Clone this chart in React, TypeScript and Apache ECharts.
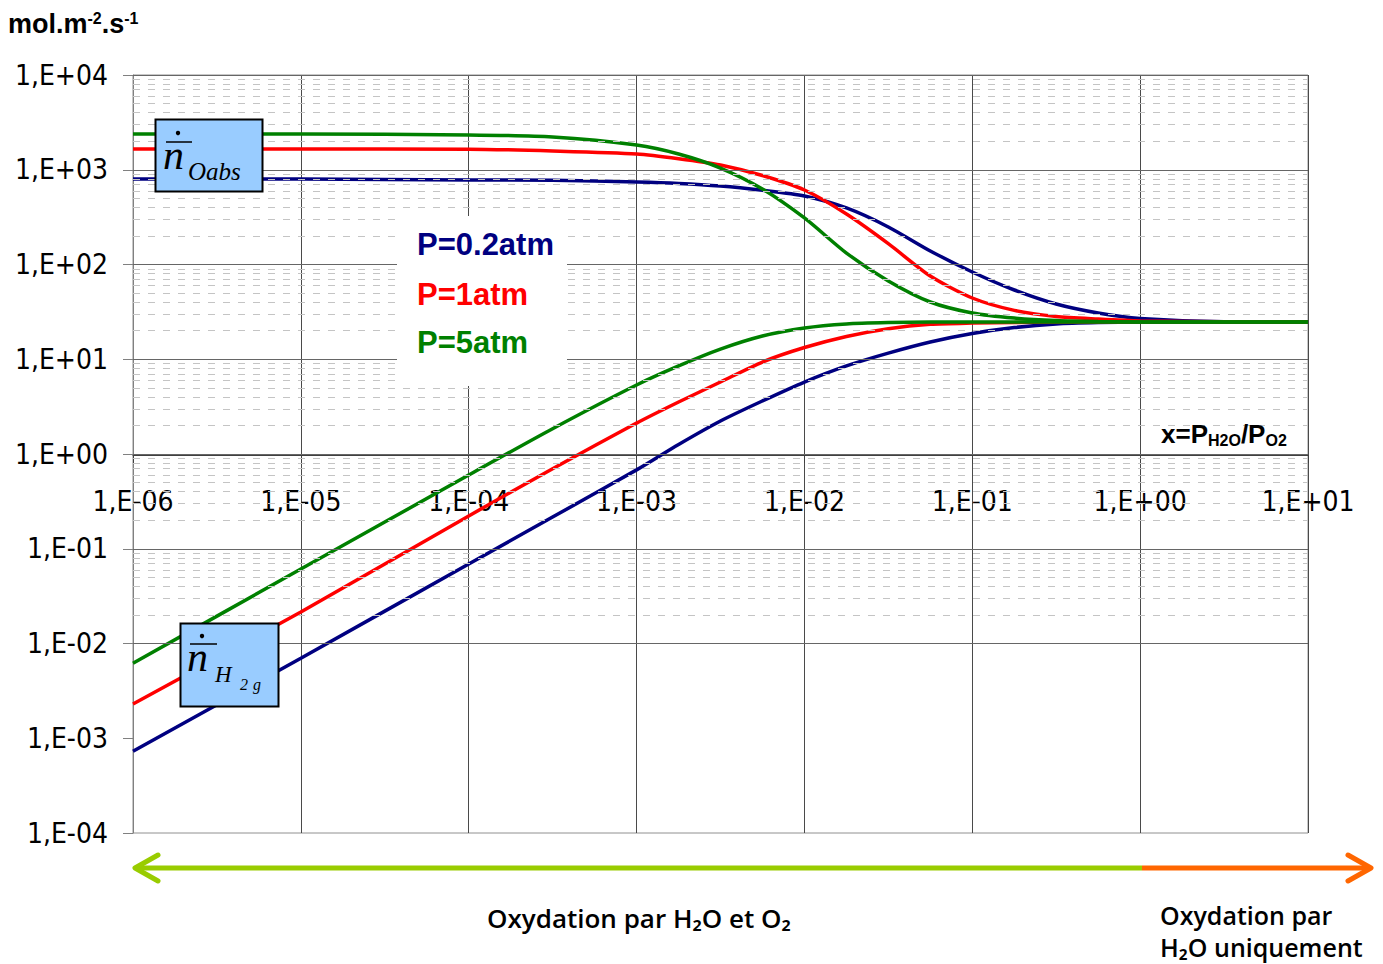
import React, { useEffect, useRef } from 'react';
import * as echarts from 'echarts';

// x = P_H2O / P_O2
const xValues = [1e-6, 1e-5, 1e-4, 3.16e-4, 1e-3, 1.78e-3, 3.16e-3, 5.62e-3, 1e-2, 1.78e-2, 3.16e-2, 5.62e-2, 0.1, 0.178, 0.316, 0.562, 1, 3.16, 10];

// n_Oabs (mol.m-2.s-1)
const oabs02 = [798, 798, 780, 775, 743, 718, 674, 607, 529, 395, 249, 139, 83.4, 53.8, 38.3, 30.8, 26.9, 24.9, 24.8];
const oabs1 = [1656, 1656, 1650, 1577, 1466, 1309, 1122, 869, 611, 341, 166, 75.6, 44.3, 32.8, 28.3, 26.6, 25.4, 24.9, 24.8];
const oabs5 = [2380, 2380, 2330, 2218, 1824, 1466, 1043, 627, 310, 132, 67, 40.2, 30.8, 27.2, 25.6, 25.0, 24.8, 24.8, 24.8];

// n_H2g (mol.m-2.s-1)
const h2g02 = [7.3e-4, 7.0e-3, 0.069, 0.216, 0.68, 1.26, 2.23, 3.63, 5.75, 8.5, 11.6, 15.2, 18.7, 21.6, 23.6, 24.4, 24.7, 24.8, 24.8];
const h2g1 = [2.3e-3, 0.0215, 0.222, 0.70, 2.12, 3.54, 5.75, 9.35, 13.3, 17.4, 21.0, 23.4, 24.1, 24.4, 24.7, 24.8, 24.8, 24.8, 24.8];
const h2g5 = [6.2e-3, 0.061, 0.60, 1.85, 5.35, 8.5, 12.8, 17.6, 21.4, 23.6, 24.4, 24.7, 24.8, 24.8, 24.8, 24.8, 24.8, 24.8, 24.8];

const seriesNames = ['P=0.2atm', 'P=1atm', 'P=5atm'];
const seriesColors = ['#000080', '#FF0000', '#008000'];

const xMin = 1e-6;
const xMax = 10;
const yMin = 1e-4;
const yMax = 1e4;

// y gridlines: majors (decades) and log minors (2..9 in each decade)
const majorExponents = [-4, -3, -2, -1, 0, 1, 2, 3, 4];
const minorMultipliers = [2, 3, 4, 5, 6, 7, 8, 9];
const minorDecades = [-4, -3, -2, -1, 0, 1, 2, 3];

const tickFont = '"DejaVu Sans Condensed", "Liberation Sans Narrow", "DejaVu Sans", sans-serif';

function fmt(v: number): string {
  const e = Math.round(Math.log10(v));
  return '1,E' + (e < 0 ? '-' : '+') + String(Math.abs(e)).padStart(2, '0');
}

export default function App() {
  const ref = useRef<HTMLDivElement>(null);

  useEffect(() => {
    if (!ref.current) return;
    const chart = echarts.init(ref.current, null, { renderer: 'svg' });

    const minorVals: number[] = [];
    minorDecades.forEach((d) => minorMultipliers.forEach((m) => minorVals.push(m * Math.pow(10, d))));
    const majorVals = majorExponents.map((e) => Number('1e' + e));

    const toData = (ys: number[]) => xValues.map((x, i) => [x, ys[i]]);
    const upper = [oabs02, oabs1, oabs5];
    const lower = [h2g02, h2g1, h2g5];

    const lineSeries: any[] = [];
    [0, 1, 2].forEach((i) => {
      [upper[i], lower[i]].forEach((ys, k) => {
        lineSeries.push({
          name: seriesNames[i] + (k === 0 ? ' Oabs' : ' H2g'),
          type: 'line',
          data: toData(ys),
          showSymbol: false,
          smooth: 0.25,
          lineStyle: { color: seriesColors[i], width: 3.5 },
          itemStyle: { color: seriesColors[i] },
          z: 3,
        });
      });
    });

    const txt = (text: string, x: number, y: number, size: number, color: string, extra: any = {}) => ({
      type: 'text',
      x,
      y,
      z: 101,
      style: {
        text,
        fill: color,
        fontSize: size,
        fontFamily: '"Liberation Sans", Arial, sans-serif',
        fontWeight: 'bold',
        verticalAlign: 'middle',
        align: 'left',
        ...extra,
      },
    });

    const serif = '"Liberation Serif", "Times New Roman", serif';
    const capFont = '"Open Sans", "DejaVu Sans", sans-serif';

    const option: any = {
      animation: false,
      grid: {
        left: 133,
        top: 75,
        right: 75,
        bottom: 131,
        show: true,
        borderColor: '#909090',
        borderWidth: 1,
      },
      xAxis: {
        type: 'log',
        logBase: 10,
        min: xMin,
        max: xMax,
        position: 'bottom',
        offset: -378,
        axisLine: { show: true, onZero: false, lineStyle: { color: '#404040', width: 1 } },
        axisTick: { show: true, length: 8, lineStyle: { color: '#404040' } },
        axisLabel: {
          margin: 32,
          fontSize: 28,
          color: '#000',
          fontFamily: tickFont,
          formatter: fmt,
          showMinLabel: true,
          showMaxLabel: true,
        },
        splitLine: { show: true, lineStyle: { color: '#4a4a4a', width: 1 } },
      },
      yAxis: {
        type: 'log',
        logBase: 10,
        min: yMin,
        max: yMax,
        axisLine: { show: true, lineStyle: { color: '#808080', width: 1 } },
        axisTick: { show: true, length: 10, lineStyle: { color: '#808080' } },
        axisLabel: {
          margin: 25,
          fontSize: 28,
          color: '#000',
          fontFamily: tickFont,
          formatter: fmt,
          showMinLabel: true,
          showMaxLabel: true,
        },
        splitLine: { show: false },
      },
      series: [
        {
          name: 'minor',
          type: 'line',
          data: [[xMin, null]],
          showSymbol: false,
          silent: true,
          z: 1,
          lineStyle: { width: 0 },
          markLine: {
            silent: true,
            symbol: ['none', 'none'],
            label: { show: false },
            lineStyle: { color: '#c4c4c4', type: [7, 8], width: 1 },
            emphasis: { disabled: true },
            data: minorVals.map((v) => ({ yAxis: v })),
          },
        },
        {
          name: 'major',
          type: 'line',
          data: [[xMin, null]],
          showSymbol: false,
          silent: true,
          z: 2,
          lineStyle: { width: 0 },
          markLine: {
            silent: true,
            symbol: ['none', 'none'],
            label: { show: false },
            lineStyle: { color: '#666666', type: 'solid', width: 1 },
            emphasis: { disabled: true },
            data: majorVals.map((v) => ({ yAxis: v })),
          },
        },
        ...lineSeries,
      ],
      graphic: [
        // legend box
        { type: 'rect', z: 100, shape: { x: 397, y: 216, width: 170, height: 170 }, style: { fill: '#ffffff' } },
        txt(seriesNames[0], 417, 244, 31, seriesColors[0]),
        txt(seriesNames[1], 417, 294, 31, seriesColors[1]),
        txt(seriesNames[2], 417, 342, 31, seriesColors[2]),
        // unit label
        {
          type: 'text',
          x: 8,
          y: 24,
          z: 101,
          style: {
            text: '{m|mol.m}{s|-2}{m|.s}{s|-1}',
            verticalAlign: 'middle',
            align: 'left',
            rich: {
              m: { fontSize: 27, fontWeight: 'bold', fontFamily: '"Liberation Sans", Arial, sans-serif', lineHeight: 28, fill: '#000' },
              s: { fontSize: 16, fontWeight: 'bold', fontFamily: '"Liberation Sans", Arial, sans-serif', lineHeight: 12, verticalAlign: 'top', fill: '#000' },
            },
          },
        },
        // x axis title
        {
          type: 'text',
          x: 1161,
          y: 434,
          z: 101,
          style: {
            text: '{m|x=P}{s|H2O}{m|/P}{s|O2}',
            verticalAlign: 'middle',
            align: 'left',
            rich: {
              m: { fontSize: 26, fontWeight: 'bold', fontFamily: '"Liberation Sans", Arial, sans-serif', lineHeight: 28, fill: '#000' },
              s: { fontSize: 16, fontWeight: 'bold', fontFamily: '"Liberation Sans", Arial, sans-serif', lineHeight: 10, verticalAlign: 'bottom', fill: '#000' },
            },
          },
        },
        // n_Oabs box
        { type: 'rect', z: 100, shape: { x: 155.5, y: 119.5, width: 107, height: 72 }, style: { fill: '#99CCFF', stroke: '#000', lineWidth: 2 } },
        { type: 'line', z: 101, shape: { x1: 166, y1: 142, x2: 192, y2: 142 }, style: { stroke: '#000', lineWidth: 1.5 } },
        { type: 'circle', z: 101, shape: { cx: 178, cy: 133, r: 2.2 }, style: { fill: '#000' } },
        { type: 'text', z: 101, x: 163, y: 154.5, style: { text: 'n', fontSize: 42, fontStyle: 'italic', fontFamily: serif, fill: '#000', verticalAlign: 'middle', align: 'left' } },
        { type: 'text', z: 101, x: 188, y: 171, style: { text: 'Oabs', fontSize: 25, fontStyle: 'italic', fontFamily: serif, fill: '#000', verticalAlign: 'middle', align: 'left' } },
        // n_H2g box
        { type: 'rect', z: 100, shape: { x: 180.5, y: 623.5, width: 98, height: 83 }, style: { fill: '#99CCFF', stroke: '#000', lineWidth: 2 } },
        { type: 'line', z: 101, shape: { x1: 190, y1: 644, x2: 217, y2: 644 }, style: { stroke: '#000', lineWidth: 1.5 } },
        { type: 'circle', z: 101, shape: { cx: 202, cy: 636, r: 2.2 }, style: { fill: '#000' } },
        { type: 'text', z: 101, x: 187, y: 656.5, style: { text: 'n', fontSize: 42, fontStyle: 'italic', fontFamily: serif, fill: '#000', verticalAlign: 'middle', align: 'left' } },
        { type: 'text', z: 101, x: 215, y: 674.5, style: { text: 'H', fontSize: 23, fontStyle: 'italic', fontFamily: serif, fill: '#000', verticalAlign: 'middle', align: 'left' } },
        { type: 'text', z: 101, x: 240, y: 684, style: { text: '2', fontSize: 16, fontStyle: 'italic', fontFamily: serif, fill: '#000', verticalAlign: 'middle', align: 'left' } },
        { type: 'text', z: 101, x: 253, y: 684, style: { text: 'g', fontSize: 16, fontStyle: 'italic', fontFamily: serif, fill: '#000', verticalAlign: 'middle', align: 'left' } },
        // bottom arrows
        { type: 'line', z: 100, shape: { x1: 137, y1: 868, x2: 1142, y2: 868 }, style: { stroke: '#99CC00', lineWidth: 5 } },
        { type: 'polyline', z: 100, shape: { points: [[158, 855], [135, 868], [158, 881]] }, style: { stroke: '#99CC00', lineWidth: 5, fill: null, lineCap: 'round', lineJoin: 'round' } },
        { type: 'line', z: 100, shape: { x1: 1142, y1: 868, x2: 1369, y2: 868 }, style: { stroke: '#FF6600', lineWidth: 5 } },
        { type: 'polyline', z: 100, shape: { points: [[1348, 855], [1371, 868], [1348, 881]] }, style: { stroke: '#FF6600', lineWidth: 5, fill: null, lineCap: 'round', lineJoin: 'round' } },
        // bottom captions
        { type: 'text', z: 101, x: 639, y: 918, style: { text: 'Oxydation par H₂O et O₂', fontSize: 26, fontWeight: 600, fontFamily: capFont, fill: '#000', verticalAlign: 'middle', align: 'center' } },
        { type: 'text', z: 101, x: 1160, y: 915, style: { text: 'Oxydation par', fontSize: 25, fontWeight: 600, fontFamily: capFont, fill: '#000', verticalAlign: 'middle', align: 'left' } },
        { type: 'text', z: 101, x: 1160, y: 947, style: { text: 'H₂O uniquement', fontSize: 25, fontWeight: 600, fontFamily: capFont, fill: '#000', verticalAlign: 'middle', align: 'left' } },
      ],
    };

    chart.setOption(option);
    return () => chart.dispose();
  }, []);

  return (
    <div
      ref={ref}
      style={{ position: 'fixed', left: 0, top: 0, width: 1383, height: 964, background: '#ffffff' }}
    />
  );
}
